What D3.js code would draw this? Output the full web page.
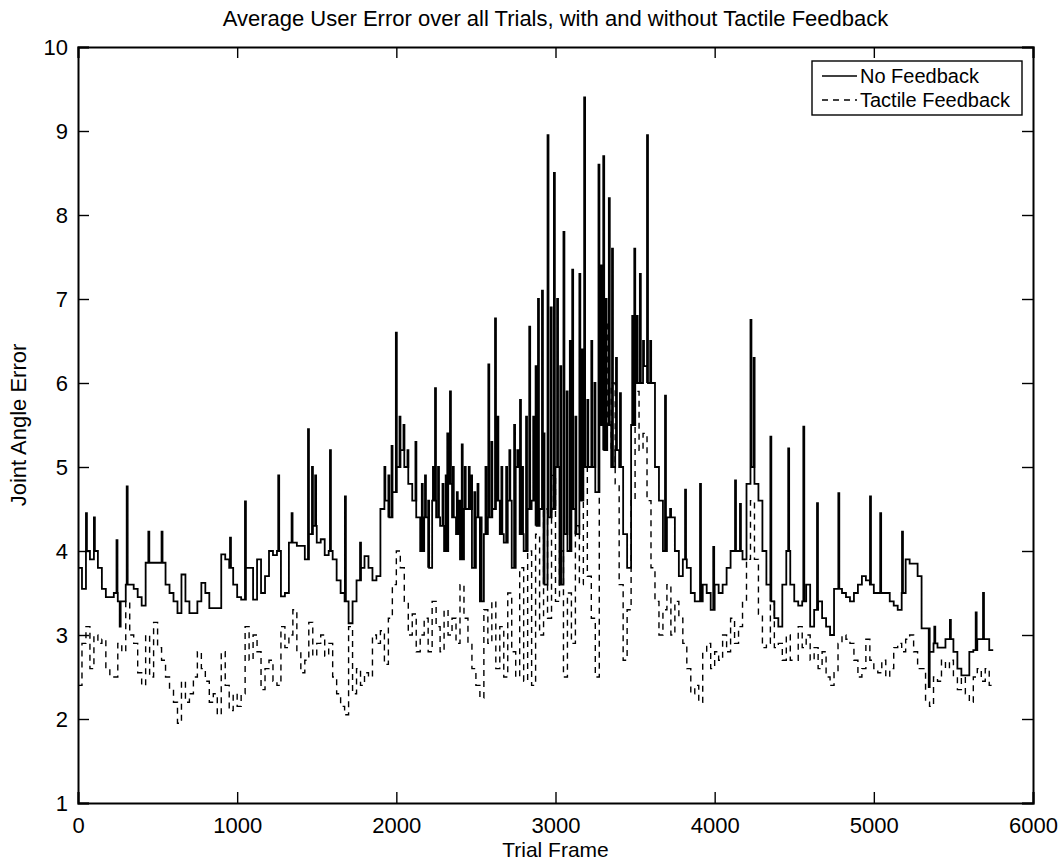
<!DOCTYPE html>
<html><head><meta charset="utf-8">
<script src="https://cdn.jsdelivr.net/npm/d3@7"></script>
<style>
html,body{margin:0;padding:0;background:#fff;}
svg{display:block;font-family:"Liberation Sans",Arial,Helvetica,sans-serif;}
</style></head><body>
<svg id="chart" width="1060" height="865"></svg>
<script>
const titleText = "Average User Error over all Trials, with and without Tactile Feedback";
const xLabelText = "Trial Frame";
const yLabelText = "Joint Angle Error";
const seriesNames = ["No Feedback", "Tactile Feedback"];
const xTicks = [0, 1000, 2000, 3000, 4000, 5000, 6000];
const yTicks = [1, 2, 3, 4, 5, 6, 7, 8, 9, 10];
const frameStep = 25;   // baseline samples every 25 frames
const spikeWidth = 6;   // frames

// No Feedback: stair-step baseline (one value per 25 frames, frames 0..5750)
const noFeedbackBase = [
3.8,3.55,4.0,3.9,4.0,3.8,3.55,3.45,3.45,3.5,
3.4,3.4,3.6,3.6,3.55,3.45,3.35,3.86,3.86,3.86,
3.86,3.86,3.6,3.5,3.4,3.26,3.72,3.4,3.26,3.26,
3.4,3.62,3.5,3.32,3.32,3.32,3.96,3.9,3.8,3.6,
3.45,3.42,3.8,3.8,3.42,3.9,3.5,3.7,4.0,3.95,
4.0,3.46,3.5,4.1,4.1,4.06,4.06,3.9,4.2,4.3,
4.1,4.14,3.95,4.0,3.9,3.65,3.5,3.4,3.14,3.4,
3.65,3.8,3.94,3.8,3.65,3.7,4.5,4.6,4.4,4.7,
5.0,5.2,5.0,4.8,4.6,4.4,4.0,4.4,3.8,4.6,
4.4,4.3,4.0,4.8,4.4,4.2,3.9,4.5,4.5,3.8,
4.4,3.4,4.2,4.4,4.5,4.6,4.2,4.1,4.6,3.8,
5.0,4.2,4.0,4.5,4.6,4.3,4.5,3.6,4.4,4.5,
5.0,3.6,4.2,4.0,4.5,4.2,4.6,5.0,5.0,5.0,
4.7,5.5,5.2,5.5,5.0,5.2,5.0,4.2,3.8,5.5,
6.0,6.0,6.2,6.0,6.0,5.0,4.6,4.0,4.4,4.4,
4.0,3.7,3.9,3.8,3.5,3.4,3.4,3.6,3.5,3.3,
3.6,3.5,3.6,3.8,4.0,4.0,4.0,3.9,4.8,5.0,
4.8,4.6,4.0,3.6,3.4,3.2,3.1,3.6,4.0,3.6,
3.4,3.35,3.4,3.6,3.1,3.3,3.4,3.2,3.1,3.0,
3.55,3.55,3.5,3.45,3.4,3.5,3.6,3.7,3.65,3.6,
3.5,3.5,3.5,3.5,3.4,3.35,3.3,3.5,3.9,3.85,
3.85,3.7,3.08,3.08,2.8,2.9,2.85,2.85,2.95,2.95,
2.8,2.6,2.52,2.52,2.8,2.82,2.95,2.95,2.95,2.82,
2.82
];
// No Feedback: narrow excursions (frame, peak value)
const noFeedbackSpikeFrames = [
50,100,242,262,306,442,525,955,1049,1258,1342,1445,1470,1490,1583,1677,1772,
1925,1950,1970,1997,2020,2045,2070,2120,2160,2180,2200,2230,2243,2262,2290,2310,
2320,2337,2355,2380,2395,2411,2430,2455,2470,2490,2510,2530,2560,2578,2597,2620,
2635,2660,2690,2710,2740,2760,2777,2790,2815,2835,2860,2875,2890,2915,2925,2950,
2970,2990,3010,3030,3050,3070,3090,3105,3125,3150,3165,3180,3200,3225,3245,3270,
3285,3300,3315,3335,3355,3380,3405,3482,3495,3510,3530,3550,3575,3595,3610,3640,
3688,3720,3814,3908,3991,4128,4159,4225,4245,4350,4462,4557,4643,4777,4976,5040,
5177,5345,5380,5478,5640,5686
];
const noFeedbackSpikePeaks = [
4.45,4.4,4.13,3.1,4.77,4.23,4.23,4.16,4.59,4.9,4.45,5.45,5.0,4.9,5.2,4.65,4.1,
5.0,4.9,5.25,6.6,5.6,5.5,5.2,5.3,4.8,4.9,4.6,5.0,5.94,5.0,4.8,4.9,
5.4,5.9,5.0,4.7,4.6,5.27,5.0,5.0,4.9,4.7,4.8,4.4,5.0,6.22,5.3,6.77,
5.6,5.0,5.0,5.2,5.5,5.2,5.8,5.0,5.6,6.67,5.6,6.2,7.0,7.1,5.4,8.95,
6.9,8.5,7.0,6.2,7.8,5.9,6.5,7.35,5.6,7.3,6.4,9.4,5.8,6.5,6.0,8.6,
7.4,8.7,7.0,8.2,7.6,6.3,5.88,6.8,7.6,6.8,7.3,6.5,8.95,6.5,6.0,5.0,
5.85,4.5,4.73,4.8,4.05,4.84,4.56,6.75,6.3,5.36,5.22,5.48,4.57,4.69,4.65,4.45,
4.23,2.38,3.1,3.18,3.27,3.5
];

// Tactile Feedback: one value per 25 frames, frames 0..5750
const tactileFeedback = [
2.4,2.9,3.1,2.6,3.0,2.9,2.95,2.6,2.5,2.5,
2.9,2.8,3.4,3.0,2.9,2.55,2.4,3.0,2.5,3.15,
2.85,2.7,2.5,2.35,2.2,1.95,2.45,2.2,2.3,2.5,
2.8,2.6,2.45,2.2,2.3,2.05,2.8,2.4,2.1,2.3,
2.15,2.3,3.1,2.7,3.0,2.8,2.35,2.6,2.7,2.45,
2.4,3.1,2.85,3.0,3.3,2.8,2.55,2.7,3.15,2.75,
2.9,3.0,2.75,2.9,2.5,2.3,2.15,2.05,3.1,2.3,
2.6,2.4,2.55,2.5,3.0,2.9,3.05,2.65,3.2,3.6,
4.0,3.8,3.4,3.0,3.25,2.8,3.0,3.2,2.8,3.4,
3.1,2.8,3.3,3.0,3.2,2.9,3.6,3.2,2.9,2.6,
2.4,2.25,3.3,2.9,3.4,2.6,3.1,2.5,3.5,2.8,
2.5,3.8,2.45,4.0,2.4,4.2,3.0,4.5,3.2,4.9,
3.4,4.0,2.5,3.5,2.9,4.3,3.6,5.0,3.7,3.2,
2.5,5.9,6.7,5.2,6.0,4.8,3.6,2.7,3.3,4.6,
5.9,5.2,5.4,4.6,3.8,3.4,3.0,3.3,3.6,3.0,
3.4,3.2,2.9,2.6,2.3,2.4,2.2,2.8,2.9,2.6,
2.8,2.7,3.0,2.8,3.2,2.9,3.1,3.4,3.9,4.6,
3.9,3.25,2.85,2.9,3.4,2.85,2.9,2.7,3.0,2.7,
2.7,3.1,2.85,3.0,2.7,2.85,2.6,2.8,2.5,2.4,
2.55,2.9,3.0,2.95,2.9,2.7,2.5,2.6,2.95,2.7,
2.6,2.55,2.7,2.5,2.6,2.85,2.9,2.8,2.95,3.0,
2.8,2.6,2.6,2.2,2.15,2.5,2.45,2.7,2.6,2.7,
2.5,2.35,2.5,2.3,2.2,2.5,2.6,2.45,2.6,2.4,
2.4
];

const W = 1060, H = 865;
const plot = {left: 78, right: 1033, top: 47, bottom: 803};
const svg = d3.select("#chart");
const x = d3.scaleLinear().domain([0, 6000]).range([plot.left, plot.right]);
const y = d3.scaleLinear().domain([1, 10]).range([plot.bottom, plot.top]);

// build vertex list for the No Feedback series: baseline steps with narrow excursions
const spikes = noFeedbackSpikeFrames.map((f, i) => ({f, v: noFeedbackSpikePeaks[i]}));
const noFbPts = [];
let si = 0;
noFeedbackBase.forEach((b, i) => {
  const f0 = i * frameStep, f1 = f0 + frameStep;
  noFbPts.push({f: f0, v: b});
  while (si < spikes.length && spikes[si].f < f1) {
    noFbPts.push({f: spikes[si].f, v: spikes[si].v});
    noFbPts.push({f: spikes[si].f + spikeWidth, v: b});
    si++;
  }
});
const tactPts = tactileFeedback.map((v, i) => ({f: i * frameStep, v}));

svg.append("clipPath").attr("id", "plotclip").append("rect")
  .attr("x", plot.left).attr("y", plot.top)
  .attr("width", plot.right - plot.left).attr("height", plot.bottom - plot.top);

const line = d3.line().x(d => x(d.f)).y(d => y(d.v)).curve(d3.curveStepAfter);
const g = svg.append("g").attr("clip-path", "url(#plotclip)");
g.append("path").datum(tactPts).attr("d", line)
  .attr("fill", "none").attr("stroke", "#000").attr("stroke-width", 1.4)
  .attr("stroke-dasharray", "6,5");
g.append("path").datum(noFbPts).attr("d", line)
  .attr("fill", "none").attr("stroke", "#000").attr("stroke-width", 1.8)
  .attr("stroke-linejoin", "miter");

// axes: box with inward ticks on all sides
const tickLen = 11;
const FONT = '"Liberation Sans",Arial,Helvetica,sans-serif';
const axB = d3.axisBottom(x).tickValues(xTicks).tickSize(-tickLen).tickPadding(14).tickFormat(d3.format("d"));
const axT = d3.axisTop(x).tickValues(xTicks).tickSize(-tickLen).tickFormat("");
const axL = d3.axisLeft(y).tickValues(yTicks).tickSize(-tickLen).tickPadding(10).tickFormat(d3.format("d"));
const axR = d3.axisRight(y).tickValues(yTicks).tickSize(-tickLen).tickFormat("");
function styleAxis(sel) {
  sel.select(".domain").attr("stroke", "#000").attr("stroke-width", 2);
  sel.selectAll(".tick line").attr("stroke", "#000").attr("stroke-width", 1.4);
  sel.selectAll(".tick text").attr("fill", "#000").style("font-size", "22px").style("font-family", FONT);
}
svg.append("g").attr("transform", `translate(0,${plot.bottom})`).call(axB).call(styleAxis);
svg.append("g").attr("transform", `translate(0,${plot.top})`).call(axT).call(styleAxis);
svg.append("g").attr("transform", `translate(${plot.left},0)`).call(axL).call(styleAxis);
svg.append("g").attr("transform", `translate(${plot.right},0)`).call(axR).call(styleAxis);

// title and axis labels
svg.append("text").attr("x", (plot.left + plot.right) / 2).attr("y", 26)
  .attr("text-anchor", "middle").style("font-size", "22px").text(titleText);
svg.append("text").attr("x", (plot.left + plot.right) / 2).attr("y", 857)
  .attr("text-anchor", "middle").style("font-size", "21px").text(xLabelText);
svg.append("text").attr("transform", `translate(26,${(plot.top + plot.bottom) / 2}) rotate(-90)`)
  .attr("text-anchor", "middle").style("font-size", "22px").text(yLabelText);

// legend
const lg = svg.append("g");
const lgX = 812, lgY = 61, lgW = 210, lgH = 54;
lg.append("rect").attr("x", lgX).attr("y", lgY).attr("width", lgW).attr("height", lgH)
  .attr("fill", "#fff").attr("stroke", "#000").attr("stroke-width", 1.4);
seriesNames.forEach((name, i) => {
  const cy = lgY + 15 + i * 24;
  lg.append("line").attr("x1", lgX + 10).attr("x2", lgX + 45).attr("y1", cy).attr("y2", cy)
    .attr("stroke", "#000").attr("stroke-width", 1.4)
    .attr("stroke-dasharray", i === 1 ? "6,5" : null);
  lg.append("text").attr("x", lgX + 48).attr("y", cy + 7).style("font-size", "20px").text(name);
});
</script>
</body></html>
